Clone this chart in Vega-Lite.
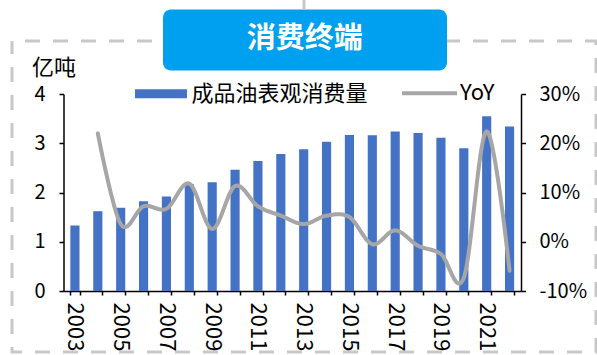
{
  "$schema": "https://vega.github.io/schema/vega-lite/v6.json",
  "width": 584,
  "height": 311,
  "autosize": {"type": "none"},
  "padding": {"left": 12, "top": 41, "right": 1, "bottom": 3},
  "background": "white",
  "view": {"stroke": "#C8C8C8", "strokeWidth": 3, "strokeDash": [15, 13], "strokeDashOffset": 15, "fill": null},
  "config": {
    "font": "Noto Sans CJK SC",
    "axis": {"grid": false, "domainColor": "#000", "tickColor": "#000", "labelColor": "#000", "titleColor": "#000", "labelFont": "Noto Sans CJK SC", "titleFont": "Noto Sans CJK SC", "labelFontSize": 20, "domainWidth": 1.5, "tickWidth": 1.5, "titleFontWeight": "normal"},
    "legend": {"labelFont": "Noto Sans CJK SC", "titleFont": "Noto Sans CJK SC", "labelColor": "#000", "labelFontSize": 22, "padding": 0, "labelLimit": 400}
  },
  "data": {"values": [
    {"year": "2003", "consumption": 1.33, "yoy": null},
    {"year": "2004", "consumption": 1.62, "yoy": 0.220},
    {"year": "2005", "consumption": 1.69, "yoy": 0.036},
    {"year": "2006", "consumption": 1.82, "yoy": 0.072},
    {"year": "2007", "consumption": 1.92, "yoy": 0.067},
    {"year": "2008", "consumption": 2.17, "yoy": 0.118},
    {"year": "2009", "consumption": 2.21, "yoy": 0.026},
    {"year": "2010", "consumption": 2.46, "yoy": 0.113},
    {"year": "2011", "consumption": 2.64, "yoy": 0.072},
    {"year": "2012", "consumption": 2.78, "yoy": 0.053},
    {"year": "2013", "consumption": 2.88, "yoy": 0.036},
    {"year": "2014", "consumption": 3.03, "yoy": 0.053},
    {"year": "2015", "consumption": 3.17, "yoy": 0.050},
    {"year": "2016", "consumption": 3.16, "yoy": -0.005},
    {"year": "2017", "consumption": 3.24, "yoy": 0.023},
    {"year": "2018", "consumption": 3.21, "yoy": -0.008},
    {"year": "2019", "consumption": 3.11, "yoy": -0.025},
    {"year": "2020", "consumption": 2.90, "yoy": -0.073},
    {"year": "2021", "consumption": 3.55, "yoy": 0.224},
    {"year": "2022", "consumption": 3.34, "yoy": -0.059}
  ]},
  "encoding": {
    "x": {
      "field": "year", "type": "ordinal",
      "scale": {"range": [51.5, 509], "paddingInner": 0.6, "paddingOuter": 0.3},
      "axis": {"title": null, "offset": -61, "tickBand": "extent", "labelAngle": 90, "labelExpr": "toNumber(datum.value) % 2 == 1 ? datum.label : ''", "tickSize": 4, "labelPadding": 7, "labelFontSize": 22}
    }
  },
  "layer": [
    {
      "mark": {"type": "bar", "color": "#4472C4"},
      "encoding": {
        "y": {
          "field": "consumption", "type": "quantitative",
          "scale": {"domain": [0, 4], "range": [250, 53], "nice": false, "zero": true},
          "axis": {"title": "亿吨", "titleAngle": 0, "titleAlign": "left", "titleBaseline": "middle", "titleX": -32, "titleY": 26, "titleFontSize": 22, "offset": -51.5, "values": [0, 1, 2, 3, 4], "tickSize": 4.5, "labelPadding": 14}
        },
        "color": {
          "datum": "成品油表观消费量",
          "scale": {"range": ["#4472C4"]},
          "legend": {"orient": "none", "legendX": 123, "legendY": 26.8, "title": null, "symbolType": "M-1,-0.173H1V0.173H-1Z", "symbolSize": 2704, "symbolStrokeWidth": 0, "labelOffset": 4.5}
        },
        "opacity": {
          "datum": "消费终端",
          "scale": {"range": [1]},
          "legend": {"orient": "none", "legendX": 151, "legendY": -31.5, "title": "消费终端", "titleFontSize": 29, "titleFontWeight": "bold", "titleColor": "white", "titleAnchor": "middle", "titlePadding": 0, "fillColor": "#00A0F0", "cornerRadius": 8, "padding": 15.75, "symbolSize": 63252, "symbolOpacity": 0, "symbolStrokeWidth": 0, "labelExpr": "''", "labelOffset": 0, "labelFontSize": 1, "clipHeight": 0.01}
        }
      }
    },
    {
      "transform": [{"filter": "isValid(datum.yoy)"}],
      "mark": {"type": "line", "interpolate": "cardinal", "strokeWidth": 4, "strokeCap": "round"},
      "encoding": {
        "y": {
          "field": "yoy", "type": "quantitative",
          "scale": {"domain": [-0.1, 0.3], "range": [250, 53], "nice": false, "zero": false},
          "axis": {"orient": "right", "title": null, "offset": -75, "values": [-0.1, 0, 0.1, 0.2, 0.3], "format": ".0%", "labelExpr": "replace(datum.label, '−', '-')", "tickSize": 4.5, "labelPadding": 13.5}
        },
        "stroke": {
          "datum": "YoY",
          "scale": {"range": ["#A6A6A6"]},
          "legend": {"orient": "none", "legendX": 388, "legendY": 22.8, "title": null, "symbolType": "stroke", "symbolSize": 3025, "symbolStrokeWidth": 4, "labelOffset": 1}
        },
        "strokeDash": {
          "datum": "connector",
          "scale": {"range": [[1, 0]]},
          "legend": {"orient": "none", "legendX": 290.5, "legendY": -41, "title": null, "fillColor": "#C8C8C8", "padding": 0, "symbolSize": 9, "symbolOpacity": 0, "symbolStrokeWidth": 0, "labelExpr": "''", "labelOffset": 0, "labelFontSize": 1, "clipHeight": 9.5}
        }
      }
    }
  ],
  "resolve": {"scale": {"y": "independent"}}
}
